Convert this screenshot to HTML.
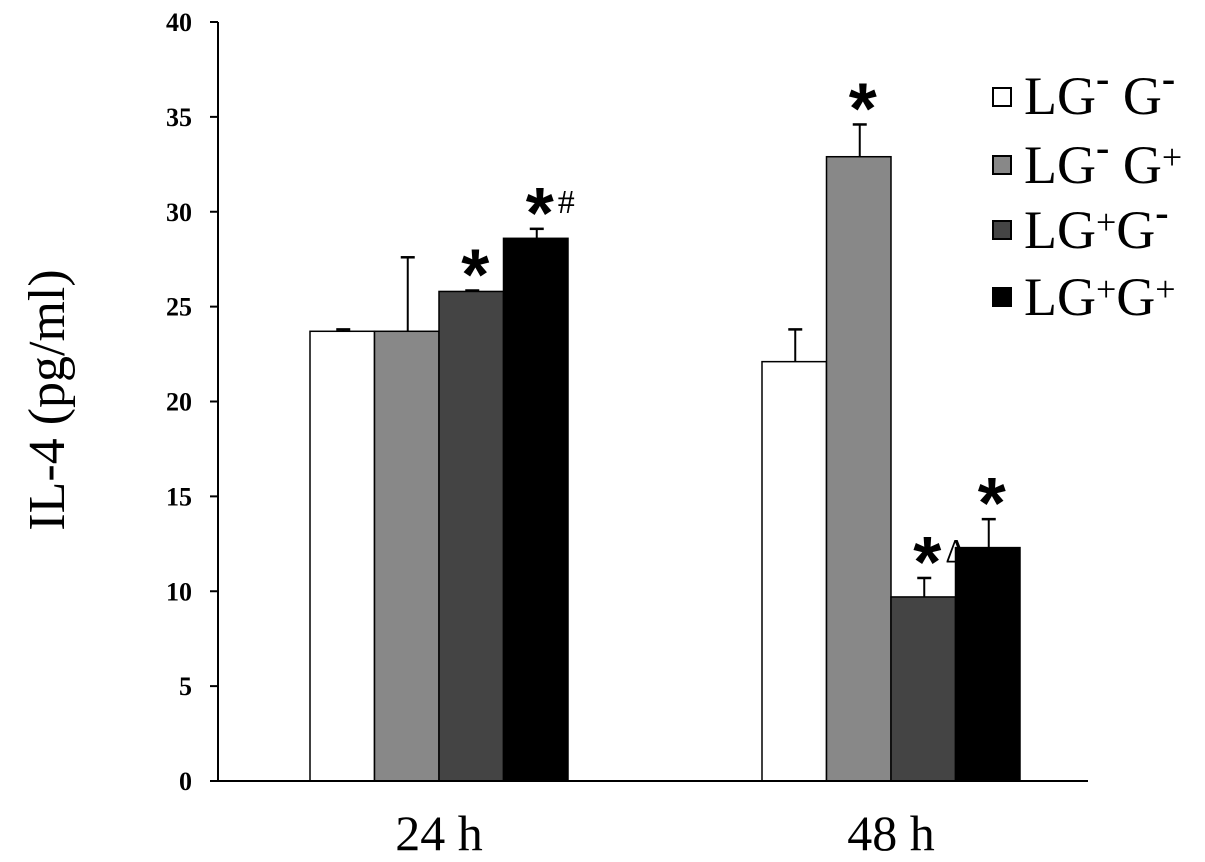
<!DOCTYPE html>
<html><head><meta charset="utf-8"><style>
html,body{margin:0;padding:0;background:#fff;width:1205px;height:862px;overflow:hidden}
svg{display:block}
</style></head><body>
<svg id="chart" width="1205" height="862" font-family="Liberation Serif, serif">
<text x="0" y="0" transform="translate(64,400) rotate(-90)" text-anchor="middle" font-size="52">IL-4 (pg/ml)</text>
<g id="legend" font-size="54">
 <g><rect x="993" y="88" width="18" height="18" fill="#fff" stroke="#000" stroke-width="2"/><text x="1024" y="114">LG<tspan dy="-22" font-size="40" font-weight="bold">-</tspan><tspan dy="22"> G</tspan><tspan dy="-22" font-size="40" font-weight="bold">-</tspan></text></g>
 <g><rect x="993" y="156" width="18" height="18" fill="#888" stroke="#000" stroke-width="2"/><text x="1024" y="183">LG<tspan dy="-22" font-size="40" font-weight="bold">-</tspan><tspan dy="22"> G</tspan><tspan dy="-14" font-size="36">+</tspan></text></g>
 <g><rect x="993" y="221" width="18" height="18" fill="#444" stroke="#000" stroke-width="2"/><text x="1024" y="248">LG<tspan dy="-14" font-size="36">+</tspan><tspan dy="14">G</tspan><tspan dy="-22" font-size="40" font-weight="bold">-</tspan></text></g>
 <g><rect x="993" y="288" width="18" height="18" fill="#000" stroke="#000" stroke-width="2"/><text x="1024" y="315">LG<tspan dy="-14" font-size="36">+</tspan><tspan dy="14">G</tspan><tspan dy="-14" font-size="36">+</tspan></text></g>
</g>
</svg>
<script>
const categories = ["24 h", "48 h"];
const seriesNames = ["LG- G-", "LG- G+", "LG+ G-", "LG+ G+"];
const values24 = [23.7, 23.7, 25.8, 28.6];
const values48 = [22.1, 32.9, 9.7, 12.3];
const errors24 = [0.1, 3.9, 0.05, 0.5];
const errors48 = [1.7, 1.7, 1.0, 1.5];
const annot24 = ["", "", "*", "*#"];
const annot48 = ["", "*", "*Δ", "*"];
const yTicks = [0, 5, 10, 15, 20, 25, 30, 35, 40];

const svg = document.getElementById('chart');
const NS = 'http://www.w3.org/2000/svg';
const fills = ['#fff', '#888', '#444', '#000'];
const y0 = 781, yTop = 22, axisX = 218, axisEnd = 1088;
const y = v => y0 - (v / 40) * (y0 - yTop);
const groupStart = [310, 762];
const barW = 64.5;
function mk(tag, attrs) { const e = document.createElementNS(NS, tag); for (const k in attrs) e.setAttribute(k, attrs[k]); svg.appendChild(e); return e; }

const vals = [values24, values48], errs = [errors24, errors48], anns = [annot24, annot48];
for (let g = 0; g < categories.length; g++) {
  for (let s = 0; s < seriesNames.length; s++) {
    const v = vals[g][s], x = groupStart[g] + s * barW;
    const r = mk('rect', {x: x, y: y(v), width: barW, height: y0 - y(v), fill: fills[s], stroke: '#000', 'stroke-width': 1.5});
    
    
    const cx = x + barW / 2 + 1, top = y(v + errs[g][s]);
    const e1 = mk('line', {x1: cx, x2: cx, y1: y(v), y2: top, stroke: '#000', 'stroke-width': 2});
    
    
    const e2 = mk('line', {x1: cx - 7, x2: cx + 7, y1: top, y2: top, stroke: '#000', 'stroke-width': 2.5});
    
    
    const a = anns[g][s];
    if (a) {
      const t = mk('text', {x: x + barW / 2 + 4, y: top + 9, 'font-size': 72, 'font-weight': 'bold', 'font-family': 'Liberation Sans, sans-serif', 'text-anchor': 'middle'});
      
      
      t.textContent = '*';
      if (a.length > 1) {
        const ts = mk('text', {x: x + barW / 2 + 22, y: top - 16, 'font-size': 34, 'font-family': 'Liberation Serif, serif'});
        
        
        ts.textContent = a.slice(1);
      }
    }
  }
  const lx = groupStart[g] + 2 * barW;
  const lab = mk('text', {x: lx, y: 850, 'font-size': 50, 'text-anchor': 'middle'});
  
  
  lab.textContent = categories[g];
}
const ya = mk('line', {x1: axisX, x2: axisX, y1: yTop, y2: y0, stroke: '#000', 'stroke-width': 2});


const xa = mk('line', {x1: axisX - 8, x2: axisEnd, y1: y0, y2: y0, stroke: '#000', 'stroke-width': 2});


yTicks.forEach(t => {
  const tk = mk('line', {x1: axisX - 8, x2: axisX, y1: y(t), y2: y(t), stroke: '#000', 'stroke-width': 2});
  
  
  const tl = mk('text', {x: 192, y: y(t) + 9, 'font-size': 26, 'font-weight': 'bold', 'text-anchor': 'end'});
  
  
  tl.textContent = t;
});
</script>
</body></html>
